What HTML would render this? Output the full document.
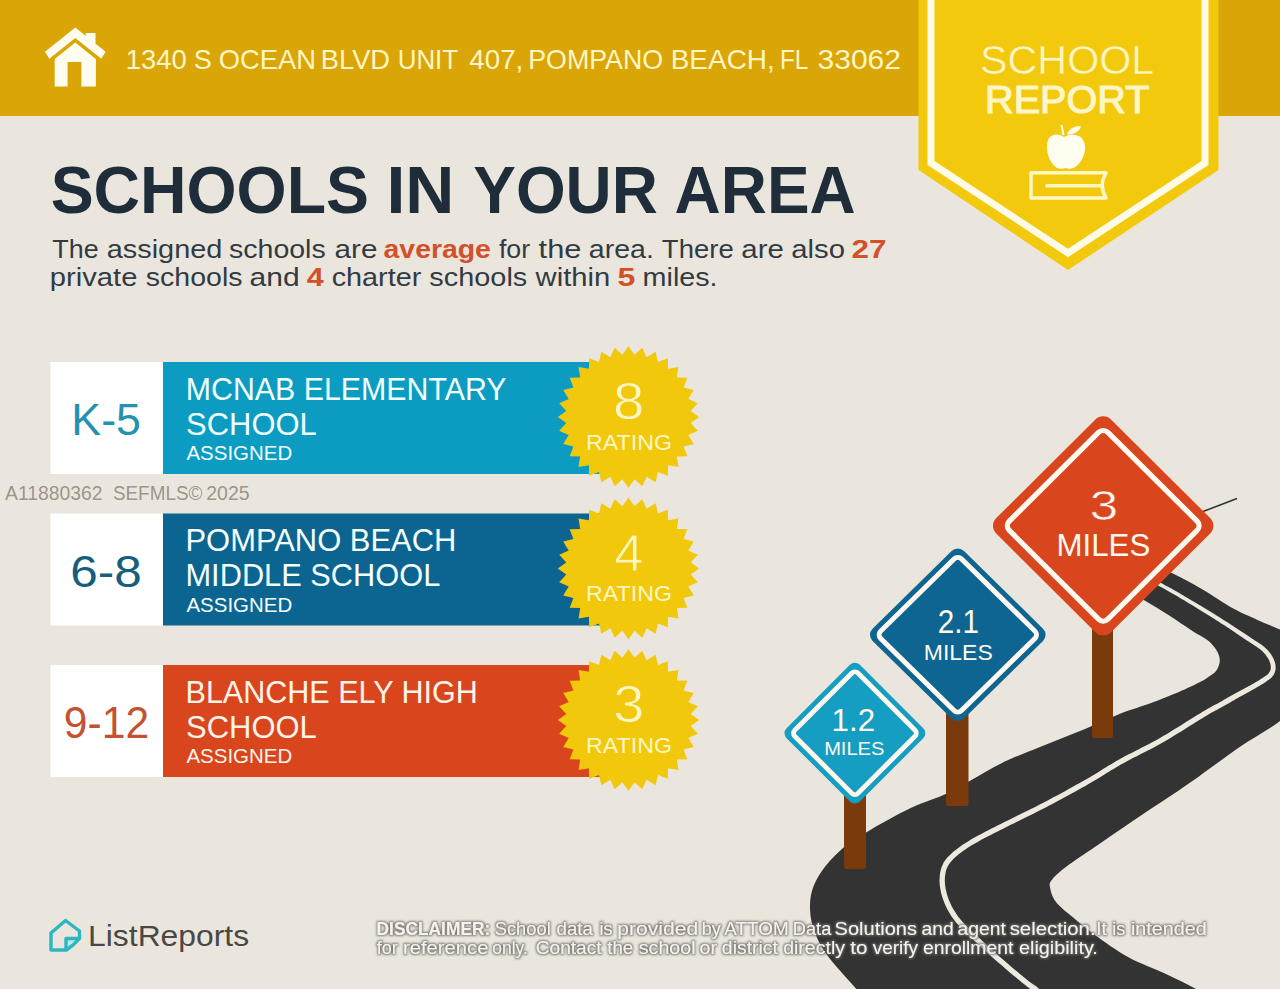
<!DOCTYPE html>
<html><head><meta charset="utf-8"><title>School Report</title>
<style>
html,body{margin:0;padding:0;background:#EAE6DD;}
body{width:1280px;height:989px;overflow:hidden;position:relative;}
svg{display:block;position:absolute;left:0;top:0;}
text{font-family:"Liberation Sans",Arial,sans-serif;}
</style></head><body>
<svg width="1280" height="989" viewBox="0 0 1280 989">
<defs><filter id="dsh" x="-5%" y="-50%" width="110%" height="200%"><feMorphology in="SourceAlpha" operator="dilate" radius="0.5" result="d"/><feGaussianBlur in="d" stdDeviation="1.1" result="b"/><feFlood flood-color="#6F6A63" flood-opacity="0.85"/><feComposite in2="b" operator="in" result="s"/><feMerge><feMergeNode in="s"/><feMergeNode in="SourceGraphic"/></feMerge></filter></defs>
<rect x="0" y="0" width="1280" height="989" fill="#EAE6DD"/>
<rect x="0" y="0" width="1280" height="116" fill="#DAA506"/>

<g fill="#FFFDF0">
<path d="M45,51.7 L75.3,27.5 L105.6,51.7 L101.3,58.8 L75.3,38 L49.3,58.8 Z"/>
<rect x="85.8" y="33" width="9.7" height="12"/>
<path d="M54.7,59 L75.3,42.5 L95.9,59 L95.9,86.5 L81.4,86.5 L81.4,62 L67.6,62 L67.6,86.5 L54.7,86.5 Z"/>
</g>
<text y="69.2" font-size="27.5" fill="#FFF6C6" ><tspan x="125.71" textLength="60.96" lengthAdjust="spacingAndGlyphs">1340</tspan><tspan x="193.77" textLength="18.07" lengthAdjust="spacingAndGlyphs">S</tspan><tspan x="218.70" textLength="97.33" lengthAdjust="spacingAndGlyphs">OCEAN</tspan><tspan x="320.83" textLength="69.24" lengthAdjust="spacingAndGlyphs">BLVD</tspan><tspan x="397.70" textLength="60.39" lengthAdjust="spacingAndGlyphs">UNIT</tspan><tspan x="469.36" textLength="53.93" lengthAdjust="spacingAndGlyphs">407,</tspan><tspan x="528.24" textLength="134.83" lengthAdjust="spacingAndGlyphs">POMPANO</tspan><tspan x="670.71" textLength="104.11" lengthAdjust="spacingAndGlyphs">BEACH,</tspan><tspan x="779.90" textLength="28.40" lengthAdjust="spacingAndGlyphs">FL</tspan><tspan x="817.56" textLength="83.45" lengthAdjust="spacingAndGlyphs">33062</tspan></text>
<path d="M918.5,0 L1218.5,0 L1218.5,170 L1068,270 L918.5,170 Z" fill="#F2C90C"/>
<path d="M931,0 L931,163 L1068,253 L1205,163 L1205,0" fill="none" stroke="#FFFBE6" stroke-width="7"/>
<text y="74.4" font-size="41" fill="#FFF6C6" stroke="#F2C90C" stroke-width="0.5"><tspan x="980.13" textLength="174.04" lengthAdjust="spacingAndGlyphs">SCHOOL</tspan></text>
<text y="112.5" font-size="39.5" fill="#FFF6C6" stroke="#FFF6C6" stroke-width="1.2"><tspan x="985.06" textLength="164.34" lengthAdjust="spacingAndGlyphs">REPORT</tspan></text>
<g fill="#FFFDF0">
<path d="M1064,137 C1060,133.5 1051,133 1048,140 C1045.5,147 1047.5,158 1053,164.5 C1056,168 1059,169.5 1063,168.5 C1065,168 1066,168 1068,168.5 C1072,169.5 1076,167.5 1080,162.5 C1085,156 1087,146 1083,140 C1080,134 1070,133.5 1064,137 Z"/>
<path d="M1061.5,125 L1063.5,135" stroke="#FFFDF0" stroke-width="2" fill="none"/>
<path d="M1067,134.5 C1069,128 1076,125.5 1081,126.5 C1079,132 1073,135 1067,134.5 Z"/>
</g>
<g fill="none" stroke="#FFF7C4" stroke-width="3.5">
<path d="M1106,172.8 L1031,172.8 L1031,198 L1106,198 Q1098.5,185.4 1106,172.8 Z" stroke-linejoin="round"/>
<path d="M1045.5,185.7 L1102,185.7"/>
</g>
<text y="212.8" font-size="66" fill="#1F2D3A" font-weight="bold" ><tspan x="50.65" textLength="318.27" lengthAdjust="spacingAndGlyphs">SCHOOLS</tspan><tspan x="386.46" textLength="67.92" lengthAdjust="spacingAndGlyphs">IN</tspan><tspan x="473.31" textLength="184.50" lengthAdjust="spacingAndGlyphs">YOUR</tspan><tspan x="674.61" textLength="181.08" lengthAdjust="spacingAndGlyphs">AREA</tspan></text>
<text y="257.8" font-size="25.5" fill="#333A42" ><tspan x="52.30" textLength="46.30" lengthAdjust="spacingAndGlyphs">The</tspan><tspan x="106.77" textLength="115.59" lengthAdjust="spacingAndGlyphs">assigned</tspan><tspan x="229.01" textLength="96.72" lengthAdjust="spacingAndGlyphs">schools</tspan><tspan x="334.64" textLength="42.88" lengthAdjust="spacingAndGlyphs">are</tspan><tspan x="383.57" textLength="107.30" lengthAdjust="spacingAndGlyphs" font-weight="bold" fill="#D2502A">average</tspan><tspan x="498.92" textLength="31.22" lengthAdjust="spacingAndGlyphs">for</tspan><tspan x="538.63" textLength="42.84" lengthAdjust="spacingAndGlyphs">the</tspan><tspan x="588.79" textLength="65.07" lengthAdjust="spacingAndGlyphs">area.</tspan><tspan x="661.88" textLength="71.84" lengthAdjust="spacingAndGlyphs">There</tspan><tspan x="741.25" textLength="42.56" lengthAdjust="spacingAndGlyphs">are</tspan><tspan x="791.26" textLength="53.72" lengthAdjust="spacingAndGlyphs">also</tspan><tspan x="851.41" textLength="34.97" lengthAdjust="spacingAndGlyphs" font-weight="bold" fill="#D2502A">27</tspan></text>
<text y="286" font-size="25.5" fill="#333A42" ><tspan x="49.82" textLength="87.58" lengthAdjust="spacingAndGlyphs">private</tspan><tspan x="145.81" textLength="96.72" lengthAdjust="spacingAndGlyphs">schools</tspan><tspan x="249.62" textLength="50.11" lengthAdjust="spacingAndGlyphs">and</tspan><tspan x="306.74" textLength="17.03" lengthAdjust="spacingAndGlyphs" font-weight="bold" fill="#D2502A">4</tspan><tspan x="331.68" textLength="89.60" lengthAdjust="spacingAndGlyphs">charter</tspan><tspan x="429.30" textLength="97.95" lengthAdjust="spacingAndGlyphs">schools</tspan><tspan x="535.64" textLength="74.55" lengthAdjust="spacingAndGlyphs">within</tspan><tspan x="617.51" textLength="17.88" lengthAdjust="spacingAndGlyphs" font-weight="bold" fill="#D2502A">5</tspan><tspan x="642.59" textLength="75.03" lengthAdjust="spacingAndGlyphs">miles.</tspan></text>
<rect x="50.5" y="362" width="112.5" height="112" fill="#FFFFFF"/>
<rect x="163" y="362" width="470" height="112" fill="#0C9CC1"/>
<text y="435" font-size="45" fill="#2392AE" ><tspan x="71.33" textLength="69.54" lengthAdjust="spacingAndGlyphs">K-5</tspan></text>
<text y="399.5" font-size="30.5" fill="#F2FFFF" ><tspan x="185.83" textLength="320.63" lengthAdjust="spacingAndGlyphs">MCNAB ELEMENTARY</tspan></text>
<text y="434.5" font-size="30.5" fill="#F2FFFF" ><tspan x="186.10" textLength="130.63" lengthAdjust="spacingAndGlyphs">SCHOOL</tspan></text>
<text y="460.2" font-size="21" fill="#F2FFFF" ><tspan x="186.46" textLength="105.72" lengthAdjust="spacingAndGlyphs">ASSIGNED</tspan></text>
<path d="M628.5,346.3 L634.6,354.8 L642.3,347.7 L646.6,357.2 L655.6,351.7 L658.0,361.9 L667.8,358.2 L668.1,368.7 L678.5,367.0 L676.8,377.4 L687.3,377.7 L683.6,387.5 L693.8,389.9 L688.3,398.9 L697.8,403.2 L690.7,410.9 L699.2,417.0 L690.7,423.1 L697.8,430.8 L688.3,435.1 L693.8,444.1 L683.6,446.5 L687.3,456.3 L676.8,456.6 L678.5,467.0 L668.1,465.3 L667.8,475.8 L658.0,472.1 L655.6,482.3 L646.6,476.8 L642.3,486.3 L634.6,479.2 L628.5,487.7 L622.4,479.2 L614.7,486.3 L610.4,476.8 L601.4,482.3 L599.0,472.1 L589.2,475.8 L588.9,465.3 L578.5,467.0 L580.2,456.6 L569.7,456.3 L573.4,446.5 L563.2,444.1 L568.7,435.1 L559.2,430.8 L566.3,423.1 L557.8,417.0 L566.3,410.9 L559.2,403.2 L568.7,398.9 L563.2,389.9 L573.4,387.5 L569.7,377.7 L580.2,377.4 L578.5,367.0 L588.9,368.7 L589.2,358.2 L599.0,361.9 L601.4,351.7 L610.4,357.2 L614.7,347.7 L622.4,354.8Z" fill="#F1C80B"/>
<text y="419.3" font-size="52" fill="#FFF6C6" stroke="#F1C80B" stroke-width="0.8"><tspan x="613.05" textLength="31.41" lengthAdjust="spacingAndGlyphs">8</tspan></text>
<text y="449.5" font-size="22" fill="#FFF6C6" ><tspan x="586.14" textLength="85.86" lengthAdjust="spacingAndGlyphs">RATING</tspan></text>
<rect x="50.5" y="513.5" width="112.5" height="112" fill="#FFFFFF"/>
<rect x="163" y="513.5" width="470" height="112" fill="#0B6590"/>
<text y="586.5" font-size="45" fill="#165E7E" ><tspan x="70.39" textLength="71.46" lengthAdjust="spacingAndGlyphs">6-8</tspan></text>
<text y="551.0" font-size="30.5" fill="#F6FFFF" ><tspan x="185.48" textLength="270.92" lengthAdjust="spacingAndGlyphs">POMPANO BEACH</tspan></text>
<text y="586.0" font-size="30.5" fill="#F6FFFF" ><tspan x="185.47" textLength="254.85" lengthAdjust="spacingAndGlyphs">MIDDLE SCHOOL</tspan></text>
<text y="611.7" font-size="21" fill="#F6FFFF" ><tspan x="186.46" textLength="105.72" lengthAdjust="spacingAndGlyphs">ASSIGNED</tspan></text>
<path d="M628.5,497.8 L634.6,506.3 L642.3,499.2 L646.6,508.7 L655.6,503.2 L658.0,513.4 L667.8,509.7 L668.1,520.2 L678.5,518.5 L676.8,528.9 L687.3,529.2 L683.6,539.0 L693.8,541.4 L688.3,550.4 L697.8,554.7 L690.7,562.4 L699.2,568.5 L690.7,574.6 L697.8,582.3 L688.3,586.6 L693.8,595.6 L683.6,598.0 L687.3,607.8 L676.8,608.1 L678.5,618.5 L668.1,616.8 L667.8,627.3 L658.0,623.6 L655.6,633.8 L646.6,628.3 L642.3,637.8 L634.6,630.7 L628.5,639.2 L622.4,630.7 L614.7,637.8 L610.4,628.3 L601.4,633.8 L599.0,623.6 L589.2,627.3 L588.9,616.8 L578.5,618.5 L580.2,608.1 L569.7,607.8 L573.4,598.0 L563.2,595.6 L568.7,586.6 L559.2,582.3 L566.3,574.6 L557.8,568.5 L566.3,562.4 L559.2,554.7 L568.7,550.4 L563.2,541.4 L573.4,539.0 L569.7,529.2 L580.2,528.9 L578.5,518.5 L588.9,520.2 L589.2,509.7 L599.0,513.4 L601.4,503.2 L610.4,508.7 L614.7,499.2 L622.4,506.3Z" fill="#F1C80B"/>
<text y="570.8" font-size="52" fill="#FFF6C6" stroke="#F1C80B" stroke-width="0.8"><tspan x="614.29" textLength="29.25" lengthAdjust="spacingAndGlyphs">4</tspan></text>
<text y="601.0" font-size="22" fill="#FFF6C6" ><tspan x="586.14" textLength="85.86" lengthAdjust="spacingAndGlyphs">RATING</tspan></text>
<rect x="50.5" y="665" width="112.5" height="112" fill="#FFFFFF"/>
<rect x="163" y="665" width="470" height="112" fill="#D9461E"/>
<text y="738" font-size="45" fill="#C45230" ><tspan x="63.80" textLength="85.34" lengthAdjust="spacingAndGlyphs">9-12</tspan></text>
<text y="702.5" font-size="30.5" fill="#FFF4EA" ><tspan x="185.52" textLength="292.35" lengthAdjust="spacingAndGlyphs">BLANCHE ELY HIGH</tspan></text>
<text y="737.5" font-size="30.5" fill="#FFF4EA" ><tspan x="186.10" textLength="130.63" lengthAdjust="spacingAndGlyphs">SCHOOL</tspan></text>
<text y="763.2" font-size="21" fill="#FFF4EA" ><tspan x="186.46" textLength="105.72" lengthAdjust="spacingAndGlyphs">ASSIGNED</tspan></text>
<path d="M628.5,649.3 L634.6,657.8 L642.3,650.7 L646.6,660.2 L655.6,654.7 L658.0,664.9 L667.8,661.2 L668.1,671.7 L678.5,670.0 L676.8,680.4 L687.3,680.7 L683.6,690.5 L693.8,692.9 L688.3,701.9 L697.8,706.2 L690.7,713.9 L699.2,720.0 L690.7,726.1 L697.8,733.8 L688.3,738.1 L693.8,747.1 L683.6,749.5 L687.3,759.3 L676.8,759.6 L678.5,770.0 L668.1,768.3 L667.8,778.8 L658.0,775.1 L655.6,785.3 L646.6,779.8 L642.3,789.3 L634.6,782.2 L628.5,790.7 L622.4,782.2 L614.7,789.3 L610.4,779.8 L601.4,785.3 L599.0,775.1 L589.2,778.8 L588.9,768.3 L578.5,770.0 L580.2,759.6 L569.7,759.3 L573.4,749.5 L563.2,747.1 L568.7,738.1 L559.2,733.8 L566.3,726.1 L557.8,720.0 L566.3,713.9 L559.2,706.2 L568.7,701.9 L563.2,692.9 L573.4,690.5 L569.7,680.7 L580.2,680.4 L578.5,670.0 L588.9,671.7 L589.2,661.2 L599.0,664.9 L601.4,654.7 L610.4,660.2 L614.7,650.7 L622.4,657.8Z" fill="#F1C80B"/>
<text y="722.3" font-size="52" fill="#FFF6C6" stroke="#F1C80B" stroke-width="0.8"><tspan x="613.37" textLength="31.08" lengthAdjust="spacingAndGlyphs">3</tspan></text>
<text y="752.5" font-size="22" fill="#FFF6C6" ><tspan x="586.14" textLength="85.86" lengthAdjust="spacingAndGlyphs">RATING</tspan></text>
<text y="500" font-size="19.5" fill="#9A948B" stroke="#F3F0EA" stroke-width="0.6" paint-order="stroke"><tspan x="5.06" textLength="97.50" lengthAdjust="spacingAndGlyphs">A11880362</tspan><tspan x="112.94" textLength="89.45" lengthAdjust="spacingAndGlyphs">SEFMLS&#169;</tspan><tspan x="206.22" textLength="43.40" lengthAdjust="spacingAndGlyphs">2025</tspan></text>
<path d="M1120,585 C1124.3,587.7 1137.8,596.3 1145.9,601.3 C1154.0,606.3 1160.7,610.0 1168.5,615 C1176.3,620.0 1186.3,627.0 1192.8,631.2 C1199.3,635.4 1203.4,636.9 1207.3,640 C1211.2,643.1 1214.1,646.3 1216.2,649.7 C1218.3,653.1 1219.8,656.7 1219.8,660.2 C1219.8,663.7 1218.2,667.9 1216.2,670.7 C1214.2,673.5 1210.8,675.3 1208.1,677.2 C1205.4,679.1 1203.9,680.1 1200,682.1 C1196.1,684.1 1192.6,686.0 1184.7,689.4 C1176.8,692.8 1163.2,698.3 1152.4,702.4 C1141.6,706.5 1132.1,708.9 1120,713.7 C1107.9,718.5 1093.3,725.5 1080,731 C1066.7,736.5 1053.3,741.5 1040,747 C1026.7,752.5 1015.0,756.5 1000,764 C985.0,771.5 964.9,784.6 950,792 C935.1,799.4 924.6,801.4 910.7,808.1 C896.8,814.8 878.2,825.2 866.5,832.3 C854.8,839.3 847.7,844.0 840.3,850.4 C832.9,856.8 826.9,863.8 822.2,870.5 C817.5,877.2 814.1,883.9 812.1,890.6 C810.1,897.3 809.8,904.0 810.1,910.7 C810.4,917.4 811.8,924.1 814.1,930.8 C816.5,937.5 819.8,944.2 824.2,950.9 C828.6,957.6 834.9,964.8 840.3,971.1 C845.7,977.5 852.1,984.2 856.4,989 C860.7,993.8 864.4,998.2 866,1000 L1215,1000 C1211.8,998.2 1204.2,993.3 1196,989 C1187.8,984.7 1177.3,979.3 1166,974 C1154.7,968.7 1139.8,963.5 1128,957 C1116.2,950.5 1103.8,941.2 1095,935 C1086.2,928.8 1081.9,924.9 1075.5,919.5 C1069.1,914.1 1060.6,907.9 1056.4,902.6 C1052.2,897.3 1050.8,891.7 1050.1,887.8 C1049.4,883.9 1049.0,883.3 1052.2,879.4 C1055.4,875.5 1061.1,870.6 1069.1,864.6 C1077.1,858.6 1088.0,851.6 1100,843.4 C1112.0,835.2 1125.8,825.7 1141,815.5 C1156.2,805.3 1174.5,793.5 1191,782 C1207.5,770.5 1225.2,757.0 1240,746.8 C1254.8,736.6 1270.0,728.8 1280,721 C1290.0,713.2 1296.7,713.5 1300,700 C1303.3,686.5 1303.3,651.7 1300,640 C1296.7,628.3 1287.1,633.0 1280,629.6 C1272.9,626.2 1265.3,623.4 1257.5,619.9 C1249.7,616.4 1242.7,613.7 1233.3,608.5 C1223.9,603.3 1210.9,594.3 1200.9,588.5 C1190.9,582.7 1181.9,578.0 1173.4,573.8 C1164.9,569.5 1153.9,564.8 1150,563 Z" fill="#333333"/>
<path d="M1139.1,575.6 L1140.3,576.2 L1141.8,577.0 L1143.5,577.9 L1145.4,578.9 L1147.5,580.0 L1149.7,581.1 L1152.0,582.3 L1154.3,583.5 L1156.5,584.8 L1158.8,585.9 L1160.9,587.1 L1162.8,588.1 L1164.6,589.1 L1166.3,590.1 L1168.0,591.0 L1169.6,591.9 L1171.2,592.8 L1172.7,593.7 L1174.3,594.6 L1176.0,595.6 L1177.8,596.6 L1179.6,597.7 L1181.6,598.9 L1183.7,600.1 L1186.0,601.5 L1188.4,603.0 L1191.0,604.5 L1193.6,606.1 L1196.3,607.8 L1199.1,609.5 L1201.9,611.2 L1204.8,613.0 L1207.6,614.7 L1210.5,616.5 L1213.3,618.3 L1216.0,620.0 L1218.8,621.8 L1221.7,623.7 L1224.7,625.6 L1227.7,627.6 L1230.7,629.6 L1233.7,631.6 L1236.6,633.6 L1239.4,635.5 L1242.1,637.2 L1244.6,638.9 L1246.9,640.5 L1249.0,641.8 L1250.8,643.0 L1252.4,644.1 L1253.8,645.0 L1255.0,645.8 L1256.1,646.5 L1257.0,647.1 L1257.9,647.7 L1258.7,648.2 L1259.4,648.8 L1260.1,649.3 L1260.8,649.9 L1261.6,650.6 L1262.4,651.3 L1263.1,652.0 L1263.8,652.7 L1264.4,653.4 L1265.0,654.1 L1265.6,654.8 L1266.1,655.5 L1266.6,656.2 L1267.1,656.9 L1267.5,657.6 L1268.0,658.3 L1268.4,659.0 L1268.7,659.6 L1269.1,660.3 L1269.4,661.0 L1269.6,661.7 L1269.9,662.4 L1270.1,663.1 L1270.3,663.7 L1270.5,664.4 L1270.6,665.0 L1270.7,665.7 L1270.8,666.2 L1270.8,666.8 L1270.8,667.4 L1270.8,667.9 L1270.7,668.4 L1270.7,668.9 L1270.6,669.4 L1270.4,669.9 L1270.3,670.4 L1270.1,670.8 L1269.9,671.3 L1269.7,671.8 L1269.4,672.2 L1269.1,672.6 L1268.9,673.0 L1268.6,673.4 L1268.2,673.8 L1267.9,674.1 L1267.5,674.5 L1267.0,674.9 L1266.5,675.3 L1266.0,675.7 L1265.4,676.1 L1264.7,676.5 L1264.0,677.0 L1263.3,677.5 L1262.5,678.1 L1261.7,678.6 L1260.8,679.1 L1259.9,679.7 L1259.0,680.3 L1258.0,680.9 L1256.9,681.5 L1255.9,682.1 L1254.8,682.7 L1253.7,683.4 L1252.5,684.0 L1251.3,684.7 L1250.1,685.4 L1248.9,686.0 L1247.6,686.8 L1246.3,687.5 L1244.9,688.2 L1243.5,689.0 L1242.1,689.7 L1240.7,690.5 L1239.3,691.2 L1237.9,692.0 L1236.5,692.8 L1235.1,693.5 L1233.8,694.3 L1232.4,695.0 L1231.0,695.8 L1229.7,696.6 L1228.3,697.3 L1227.0,698.1 L1225.6,698.9 L1224.3,699.6 L1222.9,700.4 L1221.6,701.2 L1220.2,701.9 L1218.9,702.7 L1217.7,703.4 L1216.6,704.0 L1215.5,704.5 L1214.6,705.0 L1213.6,705.5 L1212.5,706.1 L1211.4,706.7 L1210.1,707.4 L1208.6,708.2 L1206.9,709.2 L1204.9,710.4 L1202.6,711.7 L1200.0,713.4 L1196.9,715.2 L1193.7,717.3 L1190.1,719.5 L1186.4,721.8 L1182.6,724.2 L1178.7,726.7 L1174.7,729.1 L1170.8,731.6 L1166.9,733.9 L1163.2,736.1 L1159.6,738.2 L1156.1,740.2 L1152.6,742.1 L1149.0,744.0 L1145.5,745.8 L1141.9,747.6 L1138.4,749.4 L1134.9,751.2 L1131.5,752.9 L1128.2,754.6 L1124.9,756.3 L1121.7,758.0 L1118.7,759.7 L1115.9,761.3 L1113.2,762.9 L1110.7,764.4 L1108.3,765.8 L1106.1,767.2 L1103.8,768.6 L1101.6,770.1 L1099.3,771.5 L1097.0,773.0 L1094.5,774.5 L1091.8,776.0 L1089.0,777.7 L1085.9,779.5 L1082.7,781.3 L1079.3,783.2 L1075.8,785.1 L1072.3,787.1 L1068.7,789.1 L1065.0,791.2 L1061.3,793.2 L1057.6,795.2 L1053.9,797.1 L1050.3,799.1 L1046.8,801.0 L1043.2,802.8 L1039.7,804.6 L1036.1,806.4 L1032.5,808.2 L1028.9,810.0 L1025.3,811.7 L1021.7,813.5 L1018.2,815.2 L1014.7,816.9 L1011.2,818.7 L1007.8,820.4 L1004.5,822.0 L1001.2,823.7 L998.0,825.3 L994.7,827.0 L991.5,828.6 L988.3,830.2 L985.2,831.8 L982.2,833.4 L979.2,835.0 L976.3,836.5 L973.5,838.1 L970.9,839.6 L968.4,841.2 L966.0,842.7 L963.8,844.1 L961.6,845.6 L959.6,847.0 L957.6,848.5 L955.7,849.9 L953.9,851.3 L952.3,852.8 L950.7,854.2 L949.2,855.7 L947.8,857.1 L946.5,858.6 L945.4,860.1 L944.3,861.6 L943.4,863.1 L942.7,864.7 L942.0,866.2 L941.4,867.7 L940.9,869.2 L940.6,870.7 L940.2,872.3 L940.0,873.9 L939.8,875.5 L939.7,877.1 L939.6,878.8 L939.5,880.6 L939.6,882.4 L939.7,884.3 L939.9,886.1 L940.2,888.0 L940.5,889.9 L940.9,891.8 L941.3,893.7 L941.8,895.6 L942.4,897.4 L943.0,899.3 L943.7,901.1 L944.4,902.9 L945.2,904.7 L946.0,906.6 L946.9,908.4 L947.9,910.2 L948.9,912.0 L950.0,913.8 L951.1,915.7 L952.3,917.5 L953.6,919.3 L955.0,921.1 L956.5,923.0 L958.1,924.8 L959.7,926.6 L961.5,928.4 L963.2,930.2 L965.1,932.0 L966.9,933.8 L968.8,935.6 L970.7,937.3 L972.6,939.1 L974.5,940.9 L976.4,942.6 L978.2,944.4 L980.1,946.2 L982.0,947.9 L983.9,949.7 L985.9,951.5 L987.8,953.2 L989.8,955.0 L991.7,956.7 L993.7,958.5 L995.7,960.3 L997.7,962.0 L999.8,963.8 L1001.9,965.6 L1004.1,967.5 L1006.4,969.5 L1008.7,971.4 L1011.0,973.4 L1013.4,975.4 L1015.7,977.3 L1017.8,979.1 L1019.9,980.8 L1021.9,982.4 L1023.6,983.8 L1025.1,985.1 L1026.5,986.1 L1027.6,987.0 L1028.6,987.7 L1029.4,988.2 L1030.1,988.7 L1030.7,989.0 L1031.2,989.3 L1031.6,989.6 L1032.0,989.9 L1032.5,990.2 L1033.0,990.5 L1033.6,991.0 L1034.4,991.7 L1035.2,992.4 L1036.1,993.2 L1037.0,994.1 L1037.9,994.9 L1038.9,995.8 L1039.8,996.7 L1040.6,997.5 L1041.4,998.2 L1042.1,998.9 L1042.7,999.5 L1043.2,999.9 L1046.8,996.1 L1046.4,995.6 L1045.8,995.1 L1045.1,994.4 L1044.3,993.6 L1043.4,992.8 L1042.5,992.0 L1041.6,991.1 L1040.6,990.2 L1039.7,989.3 L1038.7,988.5 L1037.8,987.7 L1037.0,987.0 L1036.2,986.3 L1035.5,985.8 L1034.9,985.4 L1034.4,985.1 L1033.9,984.8 L1033.4,984.5 L1032.9,984.2 L1032.3,983.8 L1031.6,983.3 L1030.8,982.7 L1029.7,981.9 L1028.5,980.9 L1026.9,979.7 L1025.2,978.3 L1023.3,976.7 L1021.2,975.0 L1019.0,973.2 L1016.8,971.3 L1014.5,969.4 L1012.1,967.4 L1009.8,965.4 L1007.5,963.5 L1005.3,961.6 L1003.2,959.8 L1001.2,958.0 L999.2,956.3 L997.2,954.5 L995.3,952.8 L993.3,951.0 L991.4,949.3 L989.4,947.5 L987.5,945.8 L985.6,944.0 L983.7,942.3 L981.9,940.5 L980.0,938.8 L978.1,937.0 L976.3,935.2 L974.4,933.5 L972.5,931.7 L970.6,929.9 L968.8,928.2 L967.0,926.4 L965.2,924.7 L963.6,923.0 L962.0,921.3 L960.6,919.6 L959.2,917.9 L957.9,916.2 L956.7,914.5 L955.6,912.8 L954.5,911.1 L953.5,909.4 L952.5,907.7 L951.6,906.0 L950.8,904.3 L950.0,902.6 L949.3,900.9 L948.6,899.2 L948.0,897.5 L947.4,895.8 L946.9,894.1 L946.5,892.4 L946.0,890.6 L945.7,888.9 L945.4,887.2 L945.2,885.5 L945.0,883.8 L944.9,882.2 L944.8,880.6 L944.9,879.0 L944.9,877.5 L945.1,876.0 L945.3,874.6 L945.5,873.2 L945.7,871.9 L946.0,870.6 L946.4,869.4 L946.9,868.2 L947.4,867.0 L948.1,865.7 L948.8,864.5 L949.7,863.3 L950.7,862.0 L951.8,860.7 L953.0,859.4 L954.3,858.0 L955.8,856.7 L957.3,855.4 L959.0,854.1 L960.8,852.7 L962.6,851.3 L964.6,850.0 L966.7,848.5 L968.9,847.1 L971.2,845.6 L973.6,844.2 L976.2,842.7 L978.9,841.2 L981.7,839.6 L984.6,838.1 L987.6,836.5 L990.7,834.9 L993.9,833.3 L997.1,831.7 L1000.4,830.1 L1003.6,828.4 L1006.9,826.8 L1010.2,825.1 L1013.6,823.4 L1017.0,821.7 L1020.5,820.0 L1024.0,818.2 L1027.6,816.5 L1031.2,814.7 L1034.8,812.9 L1038.5,811.1 L1042.1,809.3 L1045.7,807.5 L1049.2,805.6 L1052.8,803.8 L1056.4,801.8 L1060.1,799.8 L1063.8,797.8 L1067.5,795.8 L1071.2,793.8 L1074.9,791.8 L1078.4,789.8 L1081.9,787.8 L1085.3,785.9 L1088.5,784.1 L1091.6,782.3 L1094.5,780.6 L1097.2,779.0 L1099.7,777.5 L1102.1,776.0 L1104.4,774.5 L1106.7,773.1 L1108.9,771.7 L1111.1,770.3 L1113.5,768.9 L1115.9,767.4 L1118.5,765.9 L1121.3,764.3 L1124.3,762.7 L1127.4,761.0 L1130.6,759.3 L1133.9,757.6 L1137.3,755.9 L1140.8,754.1 L1144.3,752.3 L1147.9,750.5 L1151.5,748.7 L1155.1,746.7 L1158.7,744.8 L1162.2,742.8 L1165.8,740.7 L1169.6,738.4 L1173.5,736.1 L1177.5,733.6 L1181.5,731.2 L1185.4,728.7 L1189.2,726.3 L1193.0,724.0 L1196.5,721.8 L1199.7,719.7 L1202.7,717.9 L1205.4,716.3 L1207.6,714.9 L1209.6,713.8 L1211.2,712.8 L1212.7,712.0 L1213.9,711.4 L1215.0,710.8 L1216.0,710.2 L1217.0,709.7 L1218.0,709.2 L1219.1,708.6 L1220.2,708.0 L1221.5,707.3 L1222.9,706.5 L1224.2,705.8 L1225.6,705.0 L1226.9,704.2 L1228.3,703.5 L1229.6,702.7 L1231.0,701.9 L1232.3,701.1 L1233.7,700.4 L1235.0,699.6 L1236.3,698.8 L1237.7,698.1 L1239.0,697.3 L1240.4,696.6 L1241.8,695.8 L1243.2,695.0 L1244.6,694.3 L1246.0,693.5 L1247.4,692.7 L1248.7,692.0 L1250.1,691.3 L1251.4,690.5 L1252.6,689.8 L1253.9,689.1 L1255.0,688.4 L1256.2,687.8 L1257.3,687.1 L1258.4,686.5 L1259.5,685.8 L1260.5,685.2 L1261.6,684.6 L1262.6,684.0 L1263.5,683.4 L1264.4,682.8 L1265.3,682.2 L1266.1,681.7 L1266.9,681.1 L1267.6,680.6 L1268.3,680.1 L1268.9,679.7 L1269.5,679.2 L1270.1,678.7 L1270.7,678.2 L1271.3,677.7 L1271.8,677.2 L1272.3,676.6 L1272.8,676.0 L1273.3,675.4 L1273.7,674.7 L1274.0,674.0 L1274.4,673.4 L1274.6,672.7 L1274.9,671.9 L1275.1,671.2 L1275.3,670.5 L1275.5,669.7 L1275.6,668.9 L1275.6,668.2 L1275.6,667.4 L1275.6,666.6 L1275.5,665.8 L1275.4,665.0 L1275.3,664.1 L1275.1,663.3 L1274.9,662.5 L1274.6,661.6 L1274.4,660.8 L1274.0,660.0 L1273.7,659.1 L1273.3,658.3 L1272.9,657.5 L1272.4,656.6 L1272.0,655.9 L1271.5,655.1 L1271.0,654.3 L1270.4,653.5 L1269.8,652.7 L1269.2,651.9 L1268.5,651.1 L1267.8,650.3 L1267.1,649.5 L1266.3,648.8 L1265.5,648.0 L1264.6,647.2 L1263.7,646.5 L1262.9,645.8 L1262.1,645.2 L1261.3,644.6 L1260.4,644.0 L1259.5,643.4 L1258.5,642.7 L1257.4,642.0 L1256.2,641.2 L1254.8,640.4 L1253.2,639.3 L1251.4,638.2 L1249.4,636.8 L1247.1,635.3 L1244.5,633.6 L1241.8,631.8 L1239.0,630.0 L1236.0,628.0 L1233.0,626.1 L1230.0,624.1 L1226.9,622.1 L1223.9,620.2 L1221.0,618.3 L1218.2,616.6 L1215.4,614.8 L1212.6,613.1 L1209.7,611.3 L1206.9,609.6 L1204.0,607.8 L1201.2,606.1 L1198.4,604.4 L1195.6,602.8 L1193.0,601.2 L1190.4,599.7 L1188.0,598.2 L1185.7,596.9 L1183.5,595.6 L1181.5,594.4 L1179.7,593.3 L1177.9,592.3 L1176.2,591.3 L1174.6,590.4 L1173.0,589.5 L1171.4,588.6 L1169.8,587.7 L1168.1,586.8 L1166.4,585.9 L1164.6,584.9 L1162.6,583.8 L1160.5,582.7 L1158.3,581.5 L1156.0,580.3 L1153.7,579.1 L1151.4,577.9 L1149.2,576.7 L1147.1,575.6 L1145.2,574.6 L1143.5,573.7 L1142.0,573.0 L1140.9,572.4Z" fill="#EDE9DF"/>
<path d="M1203,511.6 L1237,498.4" stroke="#333" stroke-width="1.6"/>
<rect x="1092" y="600" width="21" height="138" rx="2" fill="#7A3A0C"/>
<rect x="946" y="700" width="22.5" height="106" rx="2" fill="#7A3A0C"/>
<rect x="844" y="790" width="22" height="79" rx="2" fill="#7A3A0C"/>
<g transform="translate(1103.2 525.8) scale(1 0.994) rotate(45)"><rect x="-81.15" y="-81.15" width="162.30" height="162.30" rx="11.02" fill="#D9461E"/><rect x="-69.70" y="-69.70" width="139.40" height="139.40" rx="6.61" fill="none" stroke="#FFF9F0" stroke-width="5.3"/></g><text y="519.6" font-size="43" fill="#FFF9F0" stroke="#D9461E" stroke-width="0.6"><tspan x="1089.76" textLength="28.39" lengthAdjust="spacingAndGlyphs">3</tspan></text><text y="556.4" font-size="31" fill="#FFF9F0" ><tspan x="1056.44" textLength="93.80" lengthAdjust="spacingAndGlyphs">MILES</tspan></text>
<g transform="translate(957.8 634.8) scale(1 0.983) rotate(45)"><rect x="-64.66" y="-64.66" width="129.31" height="129.31" rx="8.78" fill="#0E6591"/><rect x="-57.16" y="-57.16" width="114.31" height="114.31" rx="5.27" fill="none" stroke="#FFF9F0" stroke-width="5.0"/></g><text y="633" font-size="33" fill="#FFF9F0" ><tspan x="937.81" textLength="41.24" lengthAdjust="spacingAndGlyphs">2.1</tspan></text><text y="660.4" font-size="22" fill="#FFF9F0" ><tspan x="923.82" textLength="68.94" lengthAdjust="spacingAndGlyphs">MILES</tspan></text>
<g transform="translate(854.9 733.2) scale(1 1.0) rotate(45)"><rect x="-51.84" y="-51.84" width="103.68" height="103.68" rx="7.04" fill="#159DC2"/><rect x="-44.64" y="-44.64" width="89.28" height="89.28" rx="4.22" fill="none" stroke="#FFF9F0" stroke-width="4.8"/></g><text y="731.4" font-size="32" fill="#FFF9F0" ><tspan x="831.62" textLength="43.45" lengthAdjust="spacingAndGlyphs">1.2</tspan></text><text y="755" font-size="19" fill="#FFF9F0" ><tspan x="824.15" textLength="60.27" lengthAdjust="spacingAndGlyphs">MILES</tspan></text>
<path d="M66,938.5 L79.5,938.5 L66,950 Z" fill="#BDE9EE"/>
<g fill="none" stroke="#2DB5C0" stroke-width="3.4" stroke-linejoin="round" stroke-linecap="round">
<path d="M51,933 L65.5,920.5 L79.5,931 L79.5,938.5 Q74,945 66.5,950 L51,950 Z"/>
<path d="M66,949.5 L66,938.5 L79,938.5"/>
</g>
<text y="945.9" font-size="29.3" fill="#4A4745" ><tspan x="88.09" textLength="161.06" lengthAdjust="spacingAndGlyphs">ListReports</tspan></text>
<text y="934.5" font-size="19" fill="#F4F3F0" filter="url(#dsh)"><tspan x="376.54" textLength="113.73" lengthAdjust="spacingAndGlyphs" font-weight="bold" font-size="18">DISCLAIMER:</tspan><tspan x="494.67" textLength="56.16" lengthAdjust="spacingAndGlyphs">School</tspan><tspan x="556.51" textLength="36.39" lengthAdjust="spacingAndGlyphs">data</tspan><tspan x="599.39" textLength="13.06" lengthAdjust="spacingAndGlyphs">is</tspan><tspan x="617.34" textLength="80.92" lengthAdjust="spacingAndGlyphs">provided</tspan><tspan x="701.73" textLength="19.21" lengthAdjust="spacingAndGlyphs">by</tspan><tspan x="724.36" textLength="64.24" lengthAdjust="spacingAndGlyphs">ATTOM</tspan><tspan x="792.81" textLength="38.49" lengthAdjust="spacingAndGlyphs">Data</tspan><tspan x="834.59" textLength="82.43" lengthAdjust="spacingAndGlyphs">Solutions</tspan><tspan x="921.48" textLength="32.16" lengthAdjust="spacingAndGlyphs">and</tspan><tspan x="957.58" textLength="48.26" lengthAdjust="spacingAndGlyphs">agent</tspan><tspan x="1009.73" textLength="85.82" lengthAdjust="spacingAndGlyphs">selection.</tspan><tspan x="1096.26" textLength="10.48" lengthAdjust="spacingAndGlyphs">It</tspan><tspan x="1112.19" textLength="13.06" lengthAdjust="spacingAndGlyphs">is</tspan><tspan x="1130.98" textLength="75.69" lengthAdjust="spacingAndGlyphs">intended</tspan></text>
<text y="954" font-size="19" fill="#F4F3F0" filter="url(#dsh)"><tspan x="376.64" textLength="21.16" lengthAdjust="spacingAndGlyphs">for</tspan><tspan x="403.06" textLength="85.34" lengthAdjust="spacingAndGlyphs">reference</tspan><tspan x="492.29" textLength="35.65" lengthAdjust="spacingAndGlyphs">only.</tspan><tspan x="535.73" textLength="65.91" lengthAdjust="spacingAndGlyphs">Contact</tspan><tspan x="607.22" textLength="26.01" lengthAdjust="spacingAndGlyphs">the</tspan><tspan x="638.75" textLength="56.86" lengthAdjust="spacingAndGlyphs">school</tspan><tspan x="699.48" textLength="17.45" lengthAdjust="spacingAndGlyphs">or</tspan><tspan x="721.89" textLength="55.96" lengthAdjust="spacingAndGlyphs">district</tspan><tspan x="783.18" textLength="61.86" lengthAdjust="spacingAndGlyphs">directly</tspan><tspan x="850.29" textLength="17.18" lengthAdjust="spacingAndGlyphs">to</tspan><tspan x="872.74" textLength="45.30" lengthAdjust="spacingAndGlyphs">verify</tspan><tspan x="922.98" textLength="90.36" lengthAdjust="spacingAndGlyphs">enrollment</tspan><tspan x="1018.97" textLength="78.90" lengthAdjust="spacingAndGlyphs">eligibility.</tspan></text>
</svg></body></html>
